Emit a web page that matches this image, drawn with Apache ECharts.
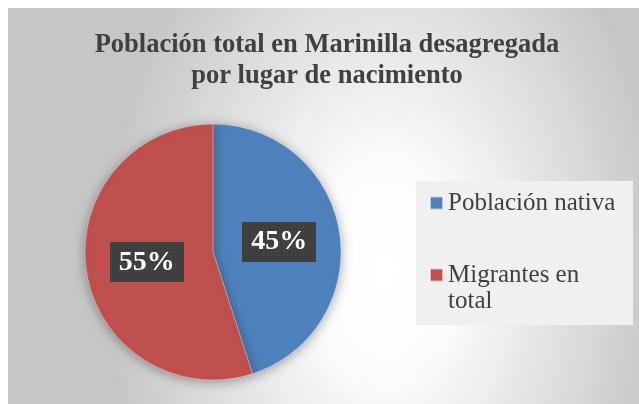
<!DOCTYPE html>
<html>
<head>
<meta charset="utf-8">
<script src="https://cdn.jsdelivr.net/npm/echarts@6/dist/echarts.min.js"></script>
<style>
html, body { margin: 0; padding: 0; background: #fff; }
#chart { position: absolute; left: 8px; top: 8px; width: 631px; height: 396px; }
</style>
</head>
<body>
<div id="chart"></div>
<script>
var dom = document.getElementById("chart");
var myChart = echarts.init(dom);

var titleText = 'Población total en Marinilla desagregada\npor lugar de nacimiento';
var names = ['Población nativa', 'Migrantes en total'];
var values = [45, 55];
var colors = ['#4f81bd', '#c0504d'];

// dotted dark box behind the percent labels
function dots(w, h) {
    var c = document.createElement('canvas');
    c.width = w; c.height = h;
    var ctx = c.getContext('2d');
    ctx.fillStyle = '#3e3e3e';
    ctx.fillRect(0, 0, w, h);
    ctx.fillStyle = '#575757';
    for (var y = 1; y < h; y += 4) {
        for (var x = 1; x < w; x += 4) {
            ctx.fillRect(x, y, 1, 1);
        }
    }
    return c;
}
var boxImg = dots(74, 40);

var data = values.map(function (v, i) {
    return { name: names[i], value: v, itemStyle: { color: colors[i] } };
});

var sx = 280 / 420;

option = {
    animation: false,
    title: {
        text: titleText,
        left: 319,
        top: 22,
        padding: 0,
        textAlign: 'center',
        textStyle: {
            fontFamily: 'Liberation Serif',
            fontWeight: 'bold',
            fontSize: 26.5,
            lineHeight: 31,
            color: '#404040'
        }
    },
    graphic: [{
        type: 'rect',
        x: 0, y: 0,
        scaleX: sx,
        z: -10,
        silent: true,
        shape: { x: 0, y: 0, width: 631 / sx, height: 396 },
        style: {
            fill: new echarts.graphic.RadialGradient(377 / 631, 262 / 396, 420 / 396, [
                { offset: 0, color: '#ffffff' },
                { offset: 0.25, color: '#fcfcfc' },
                { offset: 1, color: '#c6c6c6' }
            ])
        }
    }, {
        type: 'rect',
        x: 408, y: 173,
        z: -5,
        silent: true,
        shape: { width: 217, height: 144 },
        style: { fill: '#f0f0f0' }
    }],
    legend: [{
        data: [names[0]],
        orient: 'vertical',
        left: 421,
        top: 182,
        padding: 0,
        itemWidth: 13,
        itemHeight: 13,
        icon: 'rect',
        textStyle: {
            fontFamily: 'Liberation Serif',
            fontSize: 25,
            lineHeight: 26,
            color: '#404040'
        }
    }, {
        data: [names[1]],
        orient: 'vertical',
        left: 421,
        top: 228,
        padding: 0,
        itemWidth: 13,
        itemHeight: 13,
        icon: 'rect',
        formatter: function () { return '\nMigrantes en\ntotal'; },
        textStyle: {
            fontFamily: 'Liberation Serif',
            fontSize: 25,
            lineHeight: 26,
            color: '#404040'
        }
    }],
    series: [{
        type: 'pie',
        center: [205, 244],
        radius: 128,
        startAngle: 90,
        clockwise: true,
        percentPrecision: 0,
        data: data,
        itemStyle: {
            borderColor: 'rgba(255,255,255,0.6)',
            borderWidth: 0.5,
            shadowBlur: 12,
            shadowOffsetY: 2,
            shadowColor: 'rgba(0,0,0,0.35)'
        },
        label: {
            show: true,
            position: 'inside',
            formatter: '{d}%',
            fontFamily: 'Liberation Serif',
            fontWeight: 'bold',
            fontSize: 28,
            lineHeight: 32,
            color: '#ffffff',
            padding: [4, 9, 4, 9],
            backgroundColor: { image: boxImg },
            shadowColor: 'rgba(0,0,0,0.45)',
            shadowBlur: 5,
            shadowOffsetX: 3,
            shadowOffsetY: 3
        },
        labelLine: { show: false },
        emphasis: { disabled: true }
    }]
};

if (option && typeof option === "object") {
    myChart.setOption(option, true);
}
</script>
</body>
</html>
